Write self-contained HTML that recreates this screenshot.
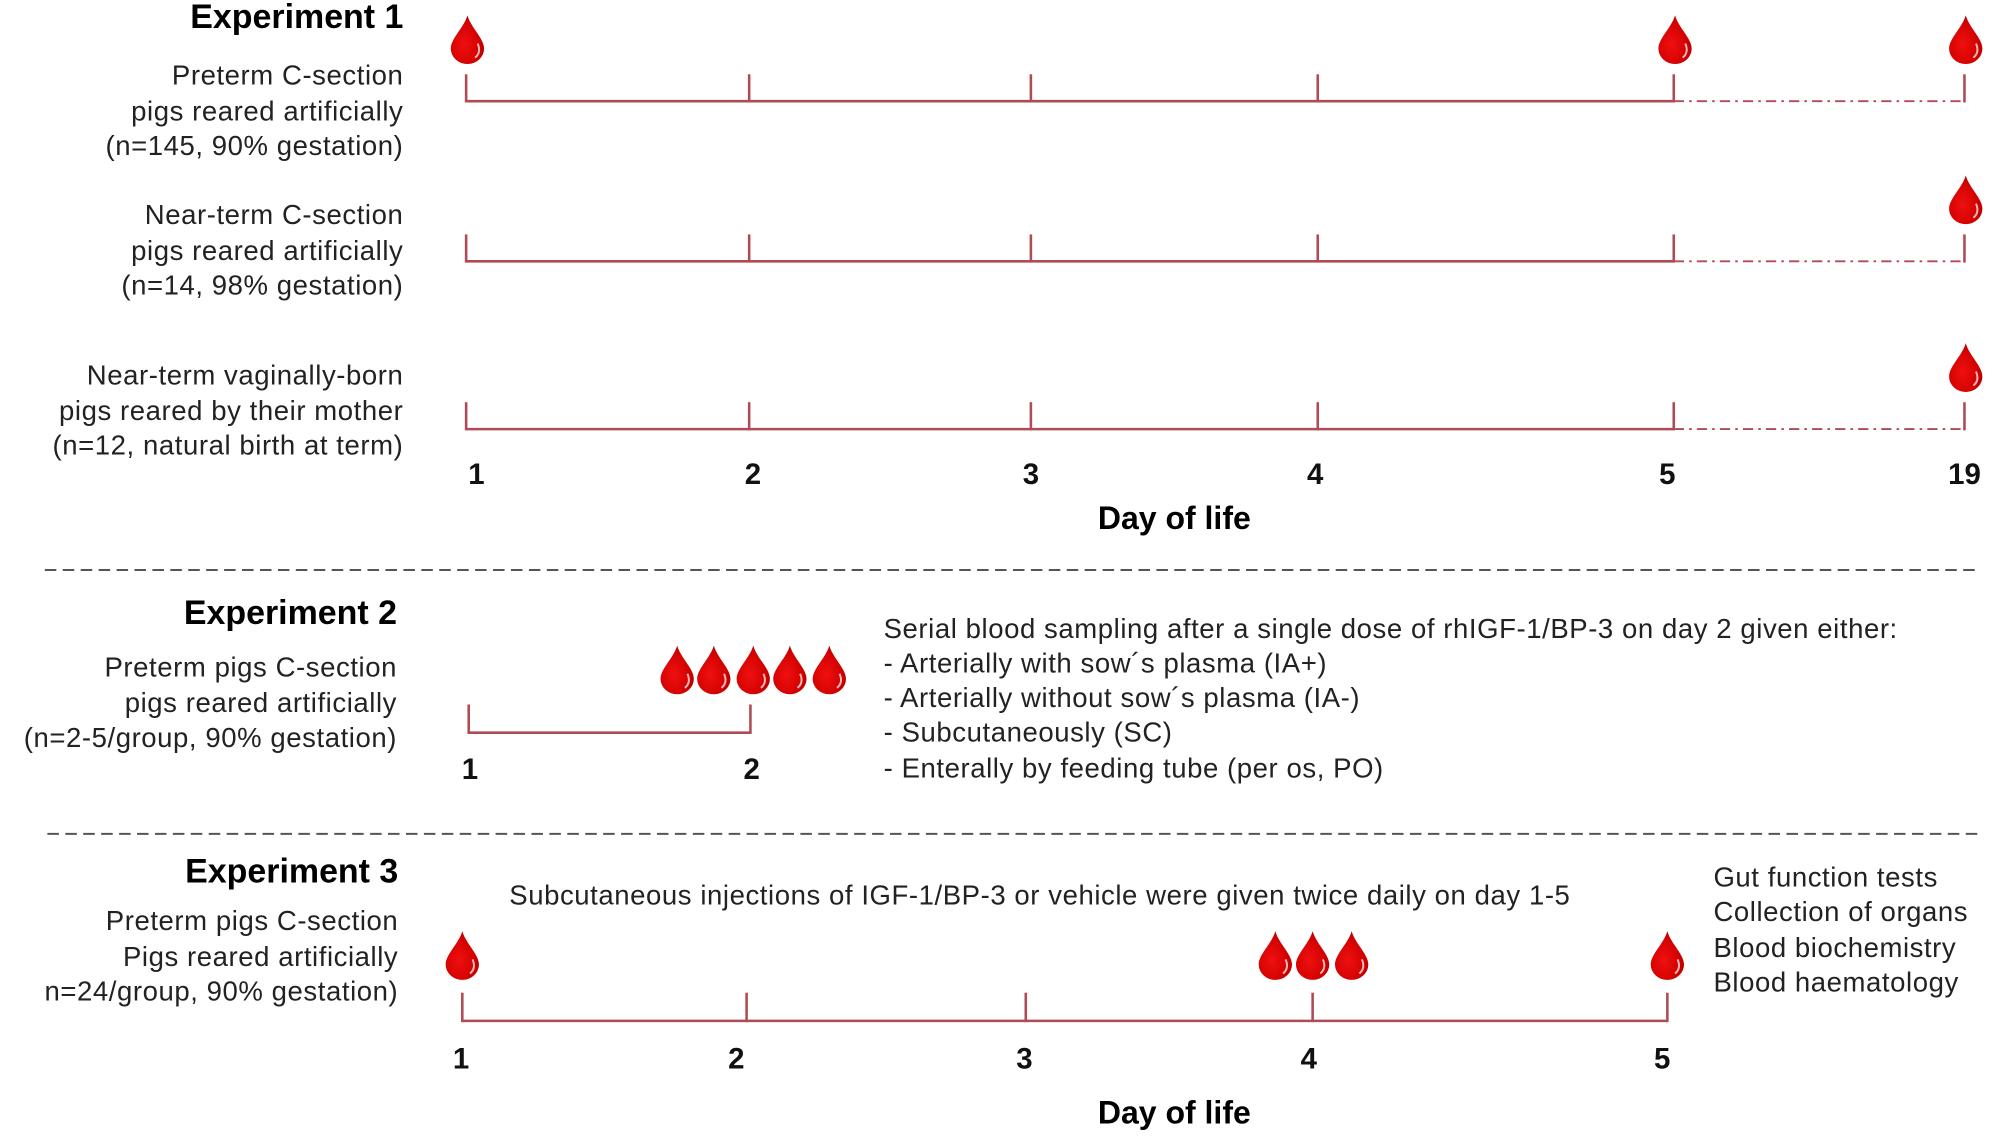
<!DOCTYPE html>
<html><head><meta charset="utf-8"><style>
html,body{margin:0;padding:0;background:#fff;}
svg{display:block;}
text{font-family:"Liberation Sans",sans-serif;fill:#222;}
.t{font-size:21.5px;letter-spacing:0.45px;}
.h{font-size:26.5px;font-weight:bold;fill:#000;}
.n{font-size:23px;font-weight:bold;fill:#111;}
</style></head><body>
<svg id="fig" width="2008" height="1140" viewBox="0 0 1568 890" preserveAspectRatio="none" xmlns="http://www.w3.org/2000/svg">
<defs>
<radialGradient id="dg" cx="0.4" cy="0.6" r="0.7">
<stop offset="0" stop-color="#f01010"/><stop offset="0.7" stop-color="#d00000"/><stop offset="1" stop-color="#a00000"/>
</radialGradient>
</defs>
<g>
<text class="h" x="315" y="22" text-anchor="end">Experiment 1</text>
<text class="t" x="315" y="66" text-anchor="end">Preterm C-section</text>
<text class="t" x="315" y="94" text-anchor="end">pigs reared artificially</text>
<text class="t" x="315" y="121" text-anchor="end">(n=145, 90% gestation)</text>
<text class="t" x="315" y="175" text-anchor="end">Near-term C-section</text>
<text class="t" x="315" y="203" text-anchor="end">pigs reared artificially</text>
<text class="t" x="315" y="230" text-anchor="end">(n=14, 98% gestation)</text>
<text class="t" x="315" y="300" text-anchor="end">Near-term vaginally-born</text>
<text class="t" x="315" y="328" text-anchor="end">pigs reared by their mother</text>
<text class="t" x="315" y="355" text-anchor="end">(n=12, natural birth at term)</text>
<text class="h" x="917" y="413" text-anchor="middle" style="font-size:25px">Day of life</text>
</g>
<line x1="35" y1="445" x2="1545" y2="445" stroke="#555" stroke-width="1.5" stroke-dasharray="9,5"/>
<g>
<text class="h" x="310" y="487" text-anchor="end">Experiment 2</text>
<text class="t" x="310" y="528" text-anchor="end">Preterm pigs C-section</text>
<text class="t" x="310" y="556" text-anchor="end">pigs reared artificially</text>
<text class="t" x="310" y="583" text-anchor="end">(n=2-5/group, 90% gestation)</text>
<text class="t" x="690" y="498">Serial blood sampling after a single dose of rhIGF-1/BP-3 on day 2 given either:</text>
<text class="t" x="690" y="525">- Arterially with sow´s plasma (IA+)</text>
<text class="t" x="690" y="552">- Arterially without sow´s plasma (IA-)</text>
<text class="t" x="690" y="579">- Subcutaneously (SC)</text>
<text class="t" x="690" y="607">- Enterally by feeding tube (per os, PO)</text>
</g>
<line x1="37" y1="651" x2="1548" y2="651" stroke="#555" stroke-width="1.5" stroke-dasharray="9,5"/>
<g>
<text class="h" x="311" y="689" text-anchor="end">Experiment 3</text>
<text class="t" x="311" y="726" text-anchor="end">Preterm pigs C-section</text>
<text class="t" x="311" y="754" text-anchor="end">Pigs reared artificially</text>
<text class="t" x="311" y="781" text-anchor="end">n=24/group, 90% gestation)</text>
<text class="t" x="812" y="706" text-anchor="middle">Subcutaneous injections of IGF-1/BP-3 or vehicle were given twice daily on day 1-5</text>
<text class="t" x="1338" y="692">Gut function tests</text>
<text class="t" x="1338" y="719">Collection of organs</text>
<text class="t" x="1338" y="747">Blood biochemistry</text>
<text class="t" x="1338" y="774">Blood haematology</text>
<text class="h" x="917" y="877" text-anchor="middle" style="font-size:25px">Day of life</text>
</g>
<g id="marks"></g>
</svg>
<script>
const exp1Days = ["1","2","3","4","5","19"];
const exp1Rows = ["preterm-c-section","near-term-c-section","near-term-vaginal"];
const exp1Samples = [[0,4,5],[5],[5]]; // index into exp1Days
const exp2Days = ["1","2"];
const exp2Samples = [1.74,1.87,2.01,2.14,2.28];
const exp3Days = ["1","2","3","4","5"];
const exp3Samples = [1, 3.87, 4, 4.11, 5];

const NS="http://www.w3.org/2000/svg";
const g=document.getElementById('marks');
function mk(tag,attrs){const e=document.createElementNS(NS,tag);for(const k in attrs)e.setAttribute(k,attrs[k]);g.appendChild(e);return e;}
const x1pos=[364,585,805,1029,1307,1534];
function x1(i){return x1pos[i];}
function x2(d){return 366+(d-1)*(586-366);}
const x3pos=[361,583,801,1025,1302];
function x3(d){const i=Math.min(Math.max(Math.floor(d)-1,0),3);return x3pos[i]+(d-1-i)*(x3pos[i+1]-x3pos[i]);}
function drop(cx,top,name){
  const e=mk('path',{d:`M${cx},${top} C${cx+3},${top+10} ${cx+13},${top+18} ${cx+13},${top+26} A13,12 0 0 1 ${cx-13},${top+26} C${cx-13},${top+18} ${cx-3},${top+10} ${cx},${top} Z`,fill:'url(#dg)'});
  
  
  mk('path',{d:`M${cx+8},${top+22} Q${cx+11},${top+29} ${cx+6},${top+33}`,stroke:'#fbb',"stroke-width":1.5,fill:'none'});
}
const col='#b04a55';
const rowY=[79,204,335];
exp1Rows.forEach((r,ri)=>{
  const y=rowY[ri];
  const solid=mk('line',{x1:x1(0),y1:y,x2:x1(4),y2:y,stroke:col,"stroke-width":2});
  
  
  mk('line',{x1:x1(4),y1:y,x2:x1(5),y2:y,stroke:col,"stroke-width":1.5,"stroke-dasharray":"8,4,2,4"});
  exp1Days.forEach((d,i)=>{mk('line',{x1:x1(i),y1:y-21,x2:x1(i),y2:y+1,stroke:col,"stroke-width":2});});
  exp1Samples[ri].forEach(i=>drop(x1(i)+1,y-67,'blood-sample-'+r+'-day-'+exp1Days[i]));
});
const lxOff=[8,3,0,-2,-5,0];
exp1Days.forEach((d,i)=>{const t=mk('text',{x:x1(i)+lxOff[i],y:378,"text-anchor":"middle",class:"n"});t.textContent=d;
  
  });
{const y=572;
 const l=mk('line',{x1:x2(1),y1:y,x2:x2(2),y2:y,stroke:col,"stroke-width":2});
 
 
 exp2Days.forEach(d=>{mk('line',{x1:x2(+d),y1:y-22,x2:x2(+d),y2:y+1,stroke:col,"stroke-width":2});
   const t=mk('text',{x:x2(+d)+1,y:608,"text-anchor":"middle",class:"n"});t.textContent=d;
   
   });
 exp2Samples.forEach((s,i)=>drop(x2(s),y-68,'exp2-blood-sample-'+(i+1)));
}
{const y=797;
 const l=mk('line',{x1:x3(1),y1:y,x2:x3(5),y2:y,stroke:col,"stroke-width":2});
 
 
 const off3=[-1,-8,-1,-3,-4];
 exp3Days.forEach((d,i)=>{mk('line',{x1:x3(+d),y1:y-22,x2:x3(+d),y2:y+1,stroke:col,"stroke-width":2});
   const t=mk('text',{x:x3(+d)+off3[i],y:834,"text-anchor":"middle",class:"n"});t.textContent=d;
   
   });
 exp3Samples.forEach((s,i)=>drop(x3(s),y-70,'exp3-blood-sample-'+(i+1)));
}
</script>
</body></html>
